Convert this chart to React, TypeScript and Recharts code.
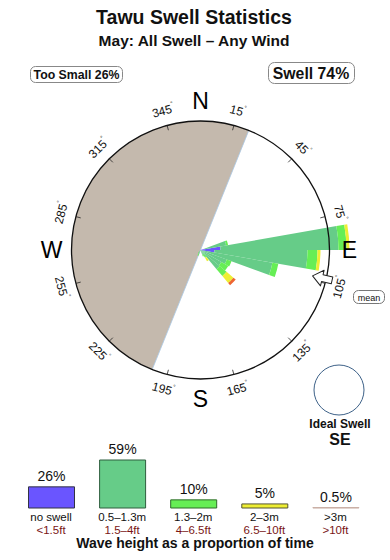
import {
  RadialBarChart,
  RadialBar,
  PolarAngleAxis,
  PolarRadiusAxis,
  BarChart,
  Bar,
  XAxis,
  YAxis,
  LabelList,
  Cell,
} from 'recharts';

// Swell direction bins (degrees, 10° wide, start of bin)
const DIRECTIONS = [
  0, 10, 20, 30, 40, 50, 60, 70, 80, 90, 100, 110, 120, 130, 140, 150, 160, 170,
  180, 190, 200, 210, 220, 230, 240, 250, 260, 270, 280, 290, 300, 310, 320, 330, 340, 350,
];

// Relative frequency per bin, stacked from the centre outward
const NO_SWELL = [0, 0, 0, 0, 0, 0, 0, 4, 20, 14, 3, 0, 0, 0, 0, 0, 0, 0, 0, 0, 0, 0, 0, 0, 0, 0, 0, 0, 0, 0, 0, 0, 0, 0, 0, 0];
const SWELL_SMALL = [0, 0, 0, 0, 0, 0, 0, 22, 118, 93, 70, 28, 24, 25, 6, 5, 0, 0, 0, 0, 4, 3, 0, 0, 0, 0, 0, 0, 0, 0, 0, 0, 0, 0, 0, 0];
const SWELL_MID = [0, 0, 0, 0, 0, 0, 0, 2, 8, 10, 6, 5, 8, 9, 3, 2, 0, 0, 0, 0, 2, 1, 0, 0, 0, 0, 0, 0, 0, 0, 0, 0, 0, 0, 0, 0];
const SWELL_BIG = [0, 0, 0, 0, 0, 0, 0, 0, 3, 3, 0, 0, 0, 9, 4, 0, 0, 0, 0, 0, 0, 0, 0, 0, 0, 0, 0, 0, 0, 0, 0, 0, 0, 0, 0, 0];
const SWELL_HUGE = [0, 0, 0, 0, 0, 0, 0, 0, 0, 0, 0, 0, 0, 3, 0, 0, 0, 0, 0, 0, 0, 0, 0, 0, 0, 0, 0, 0, 0, 0, 0, 0, 0, 0, 0, 0];

const TICK_BEARINGS = [15, 45, 75, 105, 135, 165, 195, 225, 255, 285, 315, 345];
const CARDINALS = [
  { label: 'N', bearing: 0 },
  { label: 'E', bearing: 90 },
  { label: 'S', bearing: 180 },
  { label: 'W', bearing: 270 },
];

// land shadow (directions with no swell exposure), clockwise from..to
const SHADOW_FROM = 202;
const SHADOW_TO = 22;
const MEAN_DIRECTION = 103;

// Bottom legend
const HEIGHT_BANDS = ['no swell', '0.5–1.3m', '1.3–2m', '2–3m', '>3m'];
const HEIGHT_FEET = ['<1.5ft', '1.5–4ft', '4–6.5ft', '6.5–10ft', '>10ft'];
const HEIGHT_SHARE = [26, 59, 10, 5, 0.5];

const COLORS = ['#6a55ff', '#66cc88', '#66ee55', '#eeee33', '#ee6633'];
const LEGEND_FILLS = ['#6a55ff', '#66cc88', '#66ee55', '#eeee33', '#c9aea4'];
const LEGEND_STROKES = ['#333344', '#2f5e3e', '#2f6a2a', '#555533', '#c9aea4'];

const FONT = '"Liberation Sans", Arial, Helvetica, sans-serif';
const CX = 200.5;
const CY = 250;
const RING = 129;
// recharts starts each centric bar one band after the tick, so the angle range
// is turned back by one bin to put bin "0" on 0–10°
const BIN = 10;

const roseData = DIRECTIONS.map((dir, i) => ({
  dir,
  noSwell: NO_SWELL[i],
  small: SWELL_SMALL[i],
  mid: SWELL_MID[i],
  big: SWELL_BIG[i],
  huge: SWELL_HUGE[i],
}));

const legendData = HEIGHT_BANDS.map((band, i) => ({
  band,
  feet: HEIGHT_FEET[i],
  share: HEIGHT_SHARE[i],
}));

function polar(bearing: number, r: number) {
  const a = (bearing * Math.PI) / 180;
  return { x: CX + r * Math.sin(a), y: CY - r * Math.cos(a) };
}

function shadowPath() {
  const p1 = polar(SHADOW_FROM, RING);
  const p2 = polar(SHADOW_TO, RING);
  const sweep = (SHADOW_TO - SHADOW_FROM + 360) % 360;
  const large = sweep > 180 ? 1 : 0;
  return `M${CX},${CY} L${p1.x},${p1.y} A${RING},${RING} 0 ${large} 1 ${p2.x},${p2.y} Z`;
}

function LegendTick(props: any) {
  const { x, y, payload, index } = props;
  return (
    <g>
      <text x={x} y={y + 13} textAnchor="middle" fontSize={11.5} fill="#111" fontFamily={FONT}>
        {payload.value}
      </text>
      <text x={x} y={y + 26} textAnchor="middle" fontSize={11.5} fill="#7a1616" fontFamily={FONT}>
        {HEIGHT_FEET[index]}
      </text>
    </g>
  );
}

function MeanArrow() {
  const tip = polar(MEAN_DIRECTION, 115);
  const rot = MEAN_DIRECTION - 90;
  return (
    <g transform={`translate(${tip.x},${tip.y}) rotate(${rot})`}>
      <polygon
        points="0,0 10,-8 10,-3.5 20,-3.5 20,3.5 10,3.5 10,8"
        fill="#fff"
        stroke="#222"
        strokeWidth={1}
        strokeLinejoin="round"
      />
    </g>
  );
}

export default function App() {
  return (
    <div
      style={{
        position: 'absolute',
        left: 0,
        top: 0,
        width: 390,
        height: 560,
        background: '#fff',
        fontFamily: FONT,
      }}
    >
      {/* background: land shadow */}
      <svg width={390} height={560} style={{ position: 'absolute', left: 0, top: 0 }}>
        <path d={shadowPath()} fill="#c4b9ad" stroke="none" />
        <line
          x1={polar(SHADOW_FROM, RING).x}
          y1={polar(SHADOW_FROM, RING).y}
          x2={polar(SHADOW_TO, RING).x}
          y2={polar(SHADOW_TO, RING).y}
          stroke="#a9c8e4"
          strokeWidth={0.8}
        />
      </svg>

      {/* swell rose */}
      <div style={{ position: 'absolute', left: 0, top: 0 }}>
        <RadialBarChart
          width={390}
          height={560}
          cx={CX}
          cy={CY}
          innerRadius={0}
          outerRadius={150}
          startAngle={90 - BIN}
          endAngle={-270 - BIN}
          layout="centric"
          data={roseData}
          barCategoryGap={0}
          barGap={0}
          margin={{ top: 0, right: 0, bottom: 0, left: 0 }}
        >
          <PolarAngleAxis type="category" dataKey="dir" tick={false} axisLine={false} tickLine={false} />
          <PolarRadiusAxis type="number" domain={[0, 150]} tick={false} axisLine={false} tickLine={false} />
          <RadialBar dataKey="noSwell" stackId="rose" fill={COLORS[0]} stroke="none" isAnimationActive={false} />
          <RadialBar dataKey="small" stackId="rose" fill={COLORS[1]} stroke="none" isAnimationActive={false} />
          <RadialBar dataKey="mid" stackId="rose" fill={COLORS[2]} stroke="none" isAnimationActive={false} />
          <RadialBar dataKey="big" stackId="rose" fill={COLORS[3]} stroke="none" isAnimationActive={false} />
          <RadialBar dataKey="huge" stackId="rose" fill={COLORS[4]} stroke="none" isAnimationActive={false} />
        </RadialBarChart>
      </div>

      {/* wave height legend */}
      <div style={{ position: 'absolute', left: 0, top: 440 }}>
        <BarChart
          width={390}
          height={120}
          data={legendData}
          margin={{ top: 20, right: 19, bottom: 12, left: 15.5 }}
          barSize={46}
        >
          <YAxis hide domain={[0, 59]} />
          <XAxis
            dataKey="band"
            height={40}
            axisLine={false}
            tickLine={false}
            tickSize={0}
            tickMargin={0}
            interval={0}
            tick={<LegendTick />}
          />
          <Bar dataKey="share" isAnimationActive={false} strokeWidth={1}>
            {legendData.map((d, i) => (
              <Cell key={d.band} fill={LEGEND_FILLS[i]} stroke={LEGEND_STROKES[i]} />
            ))}
            <LabelList
              dataKey="share"
              position="top"
              offset={6}
              formatter={(v: any) => `${v}%`}
              style={{ fontSize: 14, fill: '#111', fontFamily: FONT }}
            />
          </Bar>
        </BarChart>
      </div>

      {/* foreground: compass, labels, titles */}
      <svg
        width={390}
        height={560}
        style={{ position: 'absolute', left: 0, top: 0, pointerEvents: 'none' }}
        fontFamily={FONT}
      >
        <text x={194} y={24} textAnchor="middle" fontSize={19.5} fontWeight="bold" fill="#111">
          Tawu Swell Statistics
        </text>
        <text x={194} y={45.5} textAnchor="middle" fontSize={15.5} fontWeight="bold" fill="#111">
          May: All Swell – Any Wind
        </text>

        <rect x={30.5} y={66.5} width={92} height={16} rx={5} fill="#fff" stroke="#888" />
        <text x={76.5} y={78.5} textAnchor="middle" fontSize={12.3} fontWeight="bold" fill="#111">
          Too Small 26%
        </text>
        <rect x={268.5} y={62.5} width={86} height={21} rx={6} fill="#fff" stroke="#888" />
        <text x={311} y={78.5} textAnchor="middle" fontSize={15.8} fontWeight="bold" fill="#111">
          Swell 74%
        </text>

        <circle cx={CX} cy={CY} r={RING} fill="none" stroke="#111" strokeWidth={1.3} />
        {TICK_BEARINGS.map((b) => {
          const a = polar(b, RING);
          const c = polar(b, RING - 5);
          const t = polar(b, 144);
          const rot = ((b + 90) % 180) - 90;
          return (
            <g key={b}>
              <line x1={a.x} y1={a.y} x2={c.x} y2={c.y} stroke="#222" strokeWidth={0.8} />
              <text
                x={t.x}
                y={t.y}
                textAnchor="middle"
                dominantBaseline="central"
                fontSize={12}
                fill="#111"
                transform={`rotate(${rot},${t.x},${t.y})`}
              >
                {b}
                <tspan fontSize={6} dy={-5}>
                  °
                </tspan>
              </text>
            </g>
          );
        })}
        {CARDINALS.map((c) => {
          const p = polar(c.bearing, 149);
          return (
            <text
              key={c.label}
              x={p.x}
              y={p.y}
              textAnchor="middle"
              dominantBaseline="central"
              fontSize={23}
              fill="#000"
            >
              {c.label}
            </text>
          );
        })}

        <MeanArrow />
        <rect x={353.5} y={290.5} width={31} height={13} rx={5} fill="#fff" stroke="#777" />
        <text x={369} y={300.5} textAnchor="middle" fontSize={9} fill="#111">
          mean
        </text>

        <circle cx={339} cy={390} r={25} fill="none" stroke="#3d6188" strokeWidth={1} />
        <text x={340} y={428} textAnchor="middle" fontSize={12} fontWeight="bold" fill="#111">
          Ideal Swell
        </text>
        <text x={340} y={445} textAnchor="middle" fontSize={16} fontWeight="bold" fill="#111">
          SE
        </text>

        <text x={195} y={548} textAnchor="middle" fontSize={14} fontWeight="bold" fill="#111">
          Wave height as a proportion of time
        </text>
      </svg>
    </div>
  );
}
